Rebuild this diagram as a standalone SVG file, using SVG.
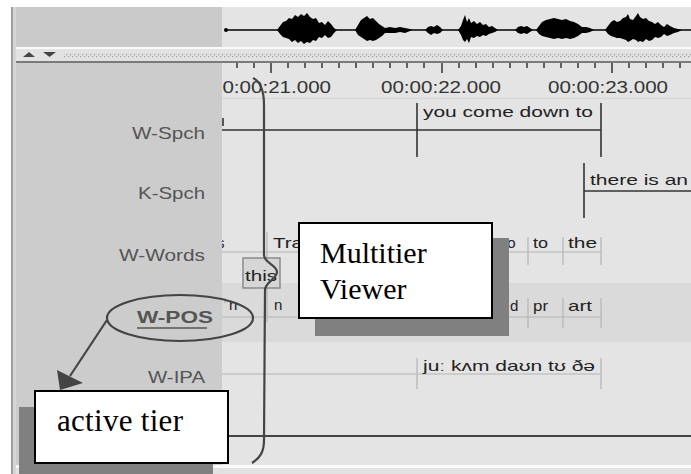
<svg xmlns="http://www.w3.org/2000/svg" width="691" height="474" viewBox="0 0 691 474">
<style>
.lbl{font-family:"Liberation Sans","DejaVu Sans",sans-serif;font-size:17px;fill:#555;text-anchor:end}
.ann{font-family:"Liberation Sans","DejaVu Sans",sans-serif;font-size:15px;fill:#222}
.ts{font-family:"Liberation Sans","DejaVu Sans",sans-serif;font-size:16px;fill:#333;text-anchor:middle}
.sep{stroke:#b4b4b4;stroke-width:1.2;fill:none}
.bnd{stroke:#333;stroke-width:1.6;fill:none}
.call{font-family:"Liberation Serif","Times New Roman",serif;fill:#000}
.box{fill:#fff;stroke:#000;stroke-width:2}
.shadow{fill:#808080}
.ink{stroke:#444;stroke-width:2.2;fill:none}
</style>
<defs>
<pattern id="dots" width="4" height="4" patternUnits="userSpaceOnUse">
<rect x="0" y="0" width="1.2" height="1.2" fill="#9a9a9a"/>
<rect x="2" y="2" width="1.2" height="1.2" fill="#9a9a9a"/>
</pattern>
<clipPath id="rc"><rect x="222" y="63" width="469" height="402"/></clipPath>
</defs>
<rect width="691" height="474" fill="#fff"/>
<!-- top waveform panel -->
<rect x="11" y="7" width="680" height="40" fill="#e4e4e4"/>
<rect x="16" y="7" width="206" height="40" fill="#cacaca"/>
<rect x="11" y="7" width="2" height="467" fill="#9e9e9e"/>
<rect x="13" y="7" width="3" height="467" fill="#d6d6d6"/>
<g id="waveform">
<line x1="225" y1="30" x2="691" y2="30" stroke="#000" stroke-width="1.6"/>
<circle cx="226" cy="30" r="2" fill="#000"/>
<path fill="#000" d="M277,30 L280,26 283,22 286,21 289,18 292,19 295,15 298,17 301,14 304,16 307,13 310,17 313,19 316,18 319,23 322,22 325,25 328,21 331,24 334,28 337,30 334,33 331,37 328,38 325,35 322,38 319,37 316,41 313,40 310,43 307,42 304,44 301,41 298,43 295,40 292,42 289,39 286,38 283,37 280,34 Z"/>
<path fill="#000" d="M355,30 L358,25 361,20 364,18 367,16 370,19 373,18 376,21 379,24 382,26 385,28 390,27 395,28 400,27 405,28 410,29 412,30 410,31 405,33 400,32 395,33 390,33 385,33 382,36 379,38 376,40 373,41 370,40 367,41 364,39 361,37 358,35 Z"/>
<path fill="#000" d="M425,30 L428,27 431,26 434,27 437,25 440,27 443,30 440,33 437,34 434,33 431,35 428,33 Z"/>
<path fill="#000" d="M458,30 L461,26 463,20 465,15 467,22 469,18 471,23 474,21 477,24 480,22 483,25 486,24 489,27 492,26 495,28 498,30 495,32 492,33 489,34 486,36 483,35 480,37 477,36 474,38 471,37 469,43 467,39 465,42 463,40 461,35 Z"/>
<path fill="#000" d="M515,30 L518,27 521,26 524,27 527,26 530,28 533,30 530,32 527,34 524,33 521,34 518,33 Z"/>
<path fill="#000" d="M536,30 L539,26 542,22 546,20 550,19 554,18 558,19 562,20 566,19 570,21 574,22 578,24 582,27 586,27 590,28 594,30 590,32 586,33 582,33 578,36 574,38 570,39 566,38 562,39 558,38 554,39 550,38 546,37 542,36 539,34 Z"/>
<path fill="#000" d="M605,30 L608,26 611,22 614,20 617,22 620,21 623,18 626,17 628,14 630,19 633,20 636,16 638,13 640,17 643,19 646,18 649,21 652,22 655,24 658,22 661,25 664,27 667,24 670,26 674,28 678,29 682,30 678,32 674,33 670,35 667,36 664,34 661,37 658,38 655,37 652,40 649,41 646,39 643,42 640,41 638,42 636,40 633,39 630,41 628,42 626,40 623,39 620,38 617,38 614,37 611,36 608,34 Z"/>
</g>
<!-- divider -->
<rect x="16" y="47" width="675" height="2" fill="#fafafa"/>
<rect x="16" y="49" width="675" height="12" fill="#e2e2e2"/>
<polygon points="23,57 29,52 35,57" fill="#444"/>
<polygon points="43,52 56,52 49.5,57" fill="#444"/>
<rect x="63" y="53" width="628" height="5" fill="url(#dots)"/>
<rect x="16" y="61" width="675" height="2" fill="#7a7a7a"/>
<!-- lower panel -->
<rect x="16" y="63" width="206" height="402" fill="#cccccc"/>
<rect x="222" y="63" width="469" height="402" fill="#e4e4e4"/>
<rect x="222" y="283" width="469" height="59" fill="#dadada"/>
<rect x="16" y="465" width="675" height="3" fill="#fafafa"/>
<rect x="16" y="468" width="675" height="6" fill="#e2e2e2"/>
<g id="ruler" clip-path="url(#rc)">
<path stroke="#333" stroke-width="1.5" d="M237,63v5M254,63v5M271,63v10M288,63v5M305,63v5M322,63v5M339,63v5M356,63v5M373,63v5M390,63v5M407,63v5M424,63v5M442,63v10M459,63v5M476,63v5M493,63v5M510,63v5M527,63v5M544,63v5M561,63v5M578,63v5M595,63v5M612,63v10M629,63v5M646,63v5M663,63v5M680,63v5"/>
<text class="ts" x="271" y="93" textLength="120" lengthAdjust="spacingAndGlyphs">00:00:21.000</text>
<text class="ts" x="441" y="93" textLength="120" lengthAdjust="spacingAndGlyphs">00:00:22.000</text>
<text class="ts" x="608" y="93" textLength="120" lengthAdjust="spacingAndGlyphs">00:00:23.000</text>
<line x1="222" y1="98.5" x2="691" y2="98.5" stroke="#d2d2d2" stroke-width="1"/>
</g>
<!-- tier labels -->
<g id="tier-labels">
<text class="lbl" x="205" y="139" textLength="73" lengthAdjust="spacingAndGlyphs">W-Spch</text>
<text class="lbl" x="205" y="199" textLength="67" lengthAdjust="spacingAndGlyphs">K-Spch</text>
<text class="lbl" x="205" y="261" textLength="86" lengthAdjust="spacingAndGlyphs">W-Words</text>
<text class="lbl" x="213" y="323" textLength="76" lengthAdjust="spacingAndGlyphs" style="font-weight:bold">W-POS</text>
<line x1="137" y1="328" x2="207" y2="328" stroke="#555" stroke-width="1.5"/>
<text class="lbl" x="205" y="383" textLength="57" lengthAdjust="spacingAndGlyphs">W-IPA</text>
</g>
<!-- tier content -->
<g id="tiers" clip-path="url(#rc)">
<g id="w-spch">
<line class="bnd" x1="222" y1="130" x2="601" y2="130"/>
<line class="bnd" x1="223" y1="118" x2="223" y2="126"/>
<line class="bnd" x1="417" y1="103" x2="417" y2="157"/>
<line class="bnd" x1="601" y1="103" x2="601" y2="157"/>
<text class="ann" x="423" y="117" textLength="170" lengthAdjust="spacingAndGlyphs">you come down to</text>
</g>
<g id="k-spch">
<line class="bnd" x1="584" y1="191" x2="691" y2="191"/>
<line class="bnd" x1="584" y1="163" x2="584" y2="218"/>
<text class="ann" x="590" y="185" textLength="98" lengthAdjust="spacingAndGlyphs">there is an</text>
</g>
<g id="w-words">
<line class="sep" x1="222" y1="252" x2="601" y2="252"/>
<text class="ann" x="217" y="248">s</text>
<line class="sep" x1="267" y1="232" x2="267" y2="262"/>
<text class="ann" x="273" y="248" textLength="30" lengthAdjust="spacingAndGlyphs">Tra</text>
<text class="ann" x="503" y="248">to</text>
<line class="sep" x1="528" y1="237" x2="528" y2="265"/>
<text class="ann" x="533" y="248" textLength="15" lengthAdjust="spacingAndGlyphs">to</text>
<line class="sep" x1="563" y1="237" x2="563" y2="265"/>
<text class="ann" x="568" y="248" textLength="29" lengthAdjust="spacingAndGlyphs">the</text>
<line class="sep" x1="601" y1="237" x2="601" y2="265"/>
</g>
<g id="w-pos">
<line class="sep" x1="222" y1="317" x2="601" y2="317"/>
<line class="sep" x1="225" y1="298" x2="225" y2="303"/>
<text class="ann" x="229" y="310">n</text>
<line class="sep" x1="267" y1="286" x2="267" y2="322"/>
<text class="ann" x="274" y="310">n</text>
<text class="ann" x="510" y="311">d</text>
<line class="sep" x1="528" y1="298" x2="528" y2="328"/>
<text class="ann" x="533" y="311" textLength="15" lengthAdjust="spacingAndGlyphs">pr</text>
<line class="sep" x1="563" y1="298" x2="563" y2="328"/>
<text class="ann" x="568" y="311" textLength="24" lengthAdjust="spacingAndGlyphs">art</text>
<line class="sep" x1="601" y1="298" x2="601" y2="328"/>
</g>
<g id="w-ipa">
<line class="sep" x1="222" y1="374" x2="601" y2="374"/>
<line class="sep" x1="417" y1="358" x2="417" y2="389"/>
<line class="sep" x1="601" y1="358" x2="601" y2="389"/>
<text class="ann" x="423" y="371" textLength="172" lengthAdjust="spacingAndGlyphs">juː kʌm daʊn tʊ ðə</text>
</g>
<line x1="222" y1="436" x2="691" y2="436" stroke="#444" stroke-width="2"/>
</g>
<g id="this-box">
<rect x="243" y="258" width="37" height="30" fill="#d6d6d6" stroke="#8a8a8a" stroke-width="1.5"/>
<text class="ann" x="245" y="281" textLength="32" lengthAdjust="spacingAndGlyphs">this</text>
</g>
<!-- connectors -->
<g id="connectors">
<path class="ink" d="M253,78 C261,82 264,92 264,105 L264,255 C264,263 277,265 277,272 C277,279 265,282 265,290 L264,440 C264,452 260,458 252,463"/>
<line class="ink" x1="107" y1="320" x2="70" y2="376"/>
<polygon points="60,390 57,370 83,383" fill="#444"/>
</g>
<g id="w-pos-highlight">
<ellipse class="ink" cx="180" cy="318" rx="73" ry="23"/>
</g>
<g id="multitier-viewer">
<rect class="shadow" x="315" y="238" width="194" height="98"/>
<rect class="box" x="299" y="223" width="193" height="95"/>
<text class="call" x="320" y="263" font-size="30">Multitier</text>
<text class="call" x="320" y="299" font-size="30">Viewer</text>
</g>
<g id="active-tier">
<rect class="shadow" x="19" y="407" width="194" height="67"/>
<rect class="box" x="35" y="391" width="193" height="72"/>
<text class="call" x="57" y="431" font-size="31" textLength="126" lengthAdjust="spacing">active tier</text>
</g>
</svg>
